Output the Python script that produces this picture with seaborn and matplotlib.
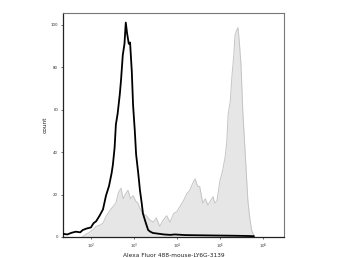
import numpy as np
import pandas as pd
import matplotlib
matplotlib.use("Agg")
import matplotlib.pyplot as plt
import seaborn as sns
from matplotlib.ticker import FixedLocator, FixedFormatter, NullLocator

# log10 fluorescence intensity and counts
control_log = [1.35, 1.45, 1.55, 1.65, 1.75, 1.81, 1.9, 2.0, 2.06, 2.12, 2.2, 2.28, 2.35, 2.42, 2.48,
               2.51, 2.55, 2.58, 2.62, 2.67, 2.70, 2.74, 2.78, 2.81, 2.84, 2.88, 2.91, 2.95, 2.98, 3.02,
               3.05, 3.10, 3.14, 3.18, 3.21, 3.27, 3.33, 3.38, 3.44, 3.55, 3.7, 3.85, 3.95, 4.2, 4.53,
               4.9, 5.3, 5.6, 5.79]
control_count = [1.5, 1.2, 2.0, 2.5, 2.2, 3.3, 4.0, 4.5, 6.5, 7.4, 10, 13, 19.5, 24, 30,
                 34, 42, 53, 58, 67, 74, 85.6, 91, 101, 96, 91, 91.6, 78, 62, 50,
                 39, 30, 22, 16, 11, 7, 3.3, 2.5, 1.9, 1.6, 1.2, 1.0, 1.2, 0.9, 0.8,
                 0.7, 0.6, 0.5, 0.4]

stained_log = [1.80, 1.86, 1.95, 2.05, 2.12, 2.2, 2.28, 2.36, 2.44, 2.5, 2.58, 2.64, 2.70, 2.75, 2.81,
               2.86, 2.92, 2.98, 3.04, 3.09, 3.15, 3.21, 3.29, 3.37, 3.45, 3.52, 3.60, 3.68, 3.76, 3.84,
               3.92, 4.0, 4.07, 4.15, 4.23, 4.3, 4.36, 4.42, 4.48, 4.53, 4.6, 4.66, 4.72, 4.78, 4.84,
               4.88, 4.93, 5.0, 5.06, 5.12, 5.16, 5.19, 5.24, 5.28, 5.32, 5.35, 5.38, 5.42, 5.45, 5.49,
               5.53, 5.58, 5.65, 5.70, 5.74, 5.81]
stained_count = [0, 1, 2, 3.5, 5, 5.5, 6.5, 10, 12.5, 14, 16, 21, 23, 18, 20.5,
                 22, 18, 19.5, 17, 16, 13, 11, 10, 8, 7, 9, 5, 8, 10, 7,
                 11, 12, 14.4, 17, 20.5, 22, 25, 27.4, 24, 23.7, 16, 18, 15, 17, 19,
                 16, 17, 26.5, 31, 37.7, 45, 57.7, 64, 76, 85, 95, 97, 98.6, 92, 81,
                 60, 42, 17, 8, 3, 0]

x_tick_exps = [2, 3, 4, 5, 6]
y_ticks = [0, 20, 40, 60, 80, 100]

sns.set_style("white")

ctrl = pd.DataFrame({"x": 10 ** np.array(control_log), "count": control_count})
stn = pd.DataFrame({"x": 10 ** np.array(stained_log), "count": stained_count})

fig = plt.figure(figsize=(3.44, 2.58), dpi=100)
ax = fig.add_axes([63 / 344, 21 / 258, 221 / 344, 224 / 258])
ax.set_xscale("log")

ax.fill_between(stn["x"], 0, stn["count"], color="#e6e6e6", lw=0, zorder=1)
sns.lineplot(data=stn, x="x", y="count", ax=ax, color="#c4c4c4", lw=0.7, zorder=2,
             estimator=None, sort=False)
sns.lineplot(data=ctrl, x="x", y="count", ax=ax, color="black", lw=1.3, zorder=3,
             estimator=None, sort=False)

ax.set_xlim(10 ** 1.35, 10 ** 6.49)
ax.set_ylim(0, 105.5)

ax.xaxis.set_major_locator(FixedLocator([10.0 ** e for e in x_tick_exps]))
ax.xaxis.set_major_formatter(FixedFormatter([rf"$10^{e}$" for e in x_tick_exps]))
ax.xaxis.set_minor_locator(NullLocator())
ax.set_yticks(y_ticks)
ax.set_yticklabels([str(v) for v in y_ticks])
ax.tick_params(axis="both", labelsize=2.8, length=1.5, width=0.5, pad=2,
               colors="#333333", direction="out", bottom=True, left=True)

ax.set_xlabel("Alexa Fluor 488-mouse-LY6G-3139", fontsize=4.2, color="#222222", labelpad=1.5)
ax.set_ylabel("count", fontsize=4.2, color="#222222", labelpad=2)

for side in ["left", "bottom"]:
    ax.spines[side].set_color("#222222")
    ax.spines[side].set_linewidth(0.9)
for side in ["top", "right"]:
    ax.spines[side].set_color("#777777")
    ax.spines[side].set_linewidth(0.8)

fig.savefig("out.png", dpi=100, facecolor="white")
